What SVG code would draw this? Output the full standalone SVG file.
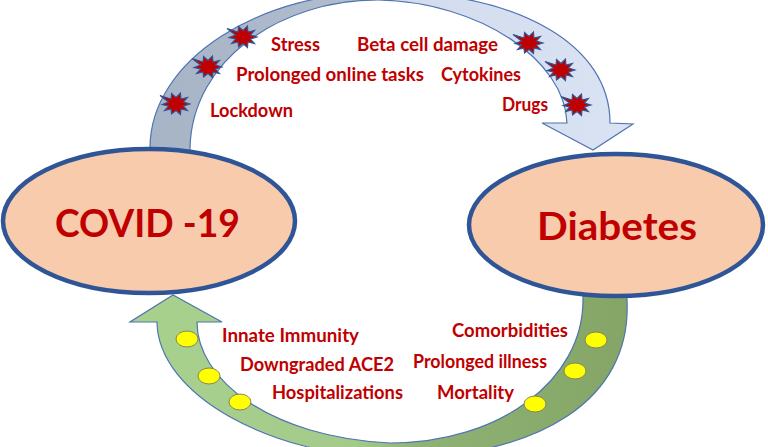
<svg xmlns="http://www.w3.org/2000/svg" width="768" height="447" viewBox="0 0 768 447">
<defs>
<linearGradient id="gTop" gradientUnits="userSpaceOnUse" x1="150" y1="0" x2="633" y2="0">
<stop offset="0" stop-color="#a7b4c6"/>
<stop offset="0.42" stop-color="#b1bdce"/>
<stop offset="0.52" stop-color="#d2dcee"/>
<stop offset="1" stop-color="#dae3f3"/>
</linearGradient>
<linearGradient id="gBot" gradientUnits="userSpaceOnUse" x1="130" y1="0" x2="632" y2="0">
<stop offset="0" stop-color="#a9d18e"/>
<stop offset="0.45" stop-color="#a3ca89"/>
<stop offset="0.58" stop-color="#8fb274"/>
<stop offset="1" stop-color="#84a566"/>
</linearGradient>
<polygon id="star" points="14,0 7.5,2 11.5,6.5 5,5 4.5,10.5 0,6.5 -4.5,10 -5,5 -11.5,6.5 -7.5,2 -14,0.5 -7.5,-2 -16,-8.5 -5,-5 -4.5,-10.5 0,-6.5 4.5,-11 5,-5 11.5,-6.5 7.5,-2" fill="#c00000" stroke="#2f5597" stroke-width="1.1" stroke-linejoin="miter"/>
<ellipse id="dot" rx="11" ry="8" fill="#ffff00" stroke="#85855a" stroke-width="1"/>
</defs>
<style>
.lbl{font-family:Lato,"Open Sans","Liberation Sans",sans-serif;font-weight:bold;font-size:18px;fill:#c00000}
.big{font-family:Lato,"Open Sans","Liberation Sans",sans-serif;font-weight:bold;font-size:39px;fill:#c00000;text-anchor:middle}
.node{fill:#f8cbad;stroke:#2f5597;stroke-width:4.5}
.band{stroke:#4f74b0;stroke-width:1.2}
</style>
<rect width="768" height="447" fill="#ffffff"/>
<g id="connectors">
<g id="arrow-covid-to-diabetes">
<path class="band" fill="url(#gTop)" d="M150,165 L150,148 C150,60 260,-10 390,-8 C520,-6 610,45 610,123 L633,124 L593,150 L542,123 L567,123 C565,60 480,2 378,0 C280,0 192,60 190,148 L190,165 Z"/>
<use href="#star" x="243" y="37"/>
<use href="#star" x="208" y="67"/>
<use href="#star" x="176" y="104"/>
<use href="#star" x="529" y="43"/>
<use href="#star" x="561" y="70"/>
<use href="#star" x="577" y="105"/>
</g>
<g id="arrow-diabetes-to-covid">
<path class="band" fill="url(#gBot)" d="M627,285 L627,300 C632,400 540,458 390,458 C270,455 158,395 157,322 L130,322 L173,295 L222,322 L197,322 C197,380 270,437 390,443 C500,443 583,380 583,300 L583,285 Z"/>
<use href="#dot" x="187" y="339"/>
<use href="#dot" x="209" y="376"/>
<use href="#dot" x="240" y="402"/>
<use href="#dot" x="596" y="340"/>
<use href="#dot" x="575" y="371"/>
<use href="#dot" x="535" y="404"/>
</g>
</g>
<g id="node-covid">
<ellipse class="node" cx="149" cy="221" rx="146" ry="72"/>
<text class="big" x="147.5" y="237" textLength="185" lengthAdjust="spacingAndGlyphs">COVID -19</text>
</g>
<g id="node-diabetes">
<ellipse class="node" cx="616" cy="225" rx="147" ry="71"/>
<text class="big" x="617" y="240" textLength="160" lengthAdjust="spacingAndGlyphs">Diabetes</text>
</g>
<g id="labels">
<text class="lbl" x="271" y="51" textLength="49" lengthAdjust="spacingAndGlyphs">Stress</text>
<text class="lbl" x="236" y="81" textLength="188" lengthAdjust="spacingAndGlyphs">Prolonged online tasks</text>
<text class="lbl" x="210" y="117" textLength="83" lengthAdjust="spacingAndGlyphs">Lockdown</text>
<text class="lbl" x="357" y="51" textLength="141" lengthAdjust="spacingAndGlyphs">Beta cell damage</text>
<text class="lbl" x="441" y="81" textLength="80" lengthAdjust="spacingAndGlyphs">Cytokines</text>
<text class="lbl" x="502" y="111" textLength="46" lengthAdjust="spacingAndGlyphs">Drugs</text>
<text class="lbl" x="222" y="342" textLength="137" lengthAdjust="spacingAndGlyphs">Innate Immunity</text>
<text class="lbl" x="240" y="371" textLength="154" lengthAdjust="spacingAndGlyphs">Downgraded ACE2</text>
<text class="lbl" x="272" y="399" textLength="131" lengthAdjust="spacingAndGlyphs">Hospitalizations</text>
<text class="lbl" x="452" y="337" textLength="116" lengthAdjust="spacingAndGlyphs">Comorbidities</text>
<text class="lbl" x="413" y="368" textLength="134" lengthAdjust="spacingAndGlyphs">Prolonged illness</text>
<text class="lbl" x="437" y="399" textLength="77" lengthAdjust="spacingAndGlyphs">Mortality</text>
</g>
</svg>
